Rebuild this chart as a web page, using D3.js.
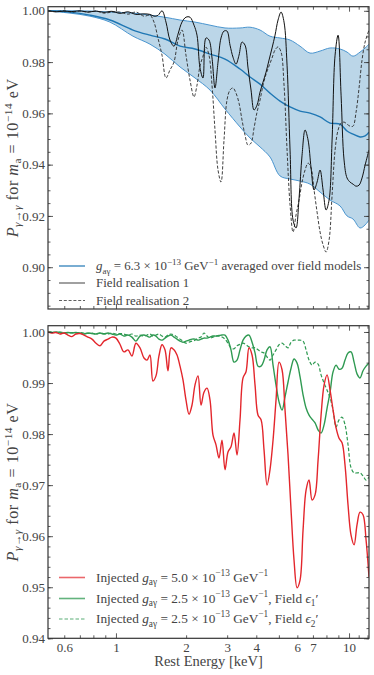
<!DOCTYPE html>
<html>
<head>
<meta charset="utf-8">
<script src="https://cdn.jsdelivr.net/npm/d3@7"></script>
<style>
  html, body { margin: 0; padding: 0; background: #fff; }
  svg { display: block; }
</style>
</head>
<body>
<div id="chart"></div>
<script>
// ---------------- DATA ----------------
// Top panel: field realisations (energy in keV, survival probability)
const energyTop = [0.511,0.553,0.598,0.647,0.701,0.758,0.821,0.888,0.961,1.040,1.126,1.218,1.319,1.399,1.456,1.514,1.576,1.639,1.705,1.774,1.846,1.920,1.997,2.078,2.162,2.227,2.294,2.363,2.434,2.507,2.583,2.660,2.741,2.823,2.908,2.995,3.086,3.178,3.274,3.373,3.474,3.579,3.687,3.798,3.912,4.030,4.151,4.276,4.405,4.537,4.674,4.814,4.959,5.109,5.262,5.421,5.584,5.752,5.925,6.104,6.287,6.477,6.672,6.872,7.079,7.292,7.512,7.738,7.971,8.211,8.458,8.712,8.974,9.244,9.520,9.804,10.10,10.40,10.72,11.04,11.37,11.72,12.18];
const realisation1 = [1.0000,0.9996,0.9999,0.9997,1.0000,0.9995,0.9999,0.9994,0.9998,0.9990,0.9996,0.9986,0.9988,
  0.9986,0.9979,0.9982,1.0000,0.9956,0.9886,0.9862,0.9909,0.9956,0.9975,0.9975,0.9944,
  0.9905,0.9777,0.9738,0.9894,0.9886,0.9816,0.9699,0.9800,0.9894,0.9921,
  0.9921,0.9866,0.9819,0.9792,0.9827,0.9878,0.9866,0.9777,0.9691,0.9613,
  0.9632,0.9683,0.9722,0.9761,0.9808,0.9855,0.9905,0.9964,0.9995,0.9956,
  0.9788,0.9457,0.9184,0.9153,0.9270,0.9437,0.9535,0.9496,0.9387,0.9301,
  0.9332,0.9379,0.9301,0.9223,0.9262,0.9496,0.9827,0.9905,0.9671,0.9418,
  0.9348,0.9332,0.9324,0.9316,0.9320,0.9348,0.9398,0.9457];
const realisation2 = [1.0000,0.9997,1.0000,0.9995,0.9999,0.9995,0.9999,0.9991,0.9995,0.9995,0.9987,0.9995,0.9979,
  0.9983,0.9956,0.9894,0.9827,0.9738,0.9769,0.9800,0.9886,0.9925,0.9827,0.9730,0.9664,
  0.9710,0.9785,0.9823,0.9858,0.9827,0.9710,0.9535,0.9379,0.9332,0.9496,
  0.9652,0.9691,0.9699,0.9679,0.9640,0.9574,0.9515,0.9476,0.9484,0.9543,
  0.9605,0.9652,0.9710,0.9753,0.9785,0.9816,0.9847,0.9859,0.9839,0.9710,
  0.9457,0.9243,0.9137,0.9204,0.9262,0.9332,0.9379,0.9406,0.9387,0.9301,
  0.9215,0.9137,0.9087,0.9059,0.9106,0.9281,0.9457,0.9535,0.9562,0.9566,
  0.9558,0.9550,0.9550,0.9605,0.9699,0.9808,0.9878,0.9925];

// Top panel: average over field models and its spread
const energyBand = [0.511,0.635,0.773,0.942,1.183,1.399,1.623,1.883,2.183,2.532,2.937,3.406,3.759,4.151,4.580,5.058,5.584,6.164,6.804,7.512,8.290,9.149,9.804,10.40,11.15,11.72,12.18];
const bandUpper = [1.0000,1.0000,0.9999,0.9995,0.9991,0.9983,0.9975,0.9964,0.9956,0.9944,0.9933,0.9933,0.9936,0.9925,0.9901,0.9894,0.9886,0.9862,0.9835,0.9843,0.9855,0.9851,0.9839,0.9823,0.9839,0.9855,0.9870];
const bandMean  = [1.0000,0.9995,0.9983,0.9964,0.9925,0.9905,0.9890,0.9862,0.9851,0.9831,0.9812,0.9773,0.9742,0.9714,0.9679,0.9648,0.9625,0.9609,0.9601,0.9586,0.9562,0.9558,0.9531,0.9519,0.9508,0.9512,0.9527];
const bandLower = [0.9999,0.9991,0.9979,0.9956,0.9901,0.9870,0.9831,0.9781,0.9738,0.9691,0.9617,0.9547,0.9504,0.9469,0.9430,0.9356,0.9344,0.9336,0.9324,0.9293,0.9262,0.9239,0.9200,0.9188,0.9153,0.9165,0.9184];

// Bottom panel: injected signals
const energyBottom = [0.511,0.531,0.553,0.575,0.598,0.622,0.647,0.673,0.701,0.729,0.758,0.789,0.821,0.854,0.888,0.924,0.961,1.000,1.040,1.082,1.126,1.171,1.218,1.268,1.319,
  1.359,1.399,1.441,1.485,1.529,1.576,1.623,1.672,1.722,1.774,1.828,1.883,1.939,1.997,2.058,2.120,2.183,2.249,2.317,2.386,
  2.459,2.532,2.608,2.687,2.768,2.851,2.937,3.025,3.116,3.210,3.307,3.406,3.509,3.614,3.723,3.836,3.951,4.070,4.193,4.318,
  4.449,4.580,4.720,4.862,5.008,5.159,5.314,5.474,5.639,5.808,5.984,6.164,6.349,6.541,6.737,6.940,7.149,7.365,7.586,7.814,
  8.050,8.290,8.541,8.798,9.059,9.333,9.613,9.902,10.20,10.51,10.82,11.15,11.48,11.83,12.18];
const injected50 = [1.0000,0.9998,0.9999,0.9996,0.9998,0.9994,0.9991,0.9996,0.9997,0.9994,0.9990,0.9986,0.9978,0.9973,0.9982,0.9986,0.9990,0.9988,0.9976,0.9961,0.9965,0.9953,0.9978,0.9969,0.9949,
  0.9945,0.9955,0.9904,0.9914,0.9953,0.9975,0.9965,0.9924,0.9969,0.9965,
  0.9955,0.9933,0.9906,0.9867,0.9839,0.9857,0.9896,0.9914,0.9857,0.9882,
  0.9890,0.9867,0.9798,0.9779,0.9753,0.9788,0.9730,0.9765,0.9775,0.9802,
  0.9759,0.9828,0.9910,0.9922,0.9969,0.9955,0.9896,0.9837,0.9828,0.9769,
  0.9700,0.9730,0.9788,0.9867,0.9941,0.9926,0.9847,0.9759,0.9651,0.9553,
  0.9499,0.9514,0.9612,0.9690,0.9710,0.9671,0.9681,0.9749,0.9837,0.9896,
  0.9916,0.9886,0.9847,0.9812,0.9792,0.9783,0.9739,0.9661,0.9602,0.9583,
  0.9622,0.9647,0.9642,0.9593,0.9520];
const injected25e1 = [1.0000,0.9999,1.0000,0.9999,0.9998,0.9999,0.9998,0.9999,0.9998,0.9996,0.9998,0.9997,0.9996,0.9998,0.9996,0.9998,0.9996,0.9994,0.9996,0.9992,0.9994,0.9990,0.9982,0.9992,0.9994,
  0.9992,0.9990,0.9994,0.9992,0.9986,0.9984,0.9988,0.9992,0.9994,0.9990,
  0.9986,0.9982,0.9980,0.9982,0.9984,0.9986,0.9986,0.9984,0.9986,0.9988,
  0.9988,0.9990,0.9992,0.9992,0.9993,0.9994,0.9994,0.9984,0.9965,0.9941,
  0.9945,0.9965,0.9984,0.9992,0.9994,0.9980,0.9959,0.9933,0.9933,0.9945,
  0.9965,0.9971,0.9935,0.9896,0.9863,0.9847,0.9873,0.9902,0.9929,0.9947,
  0.9939,0.9912,0.9877,0.9851,0.9837,0.9829,0.9822,0.9808,0.9802,0.9818,
  0.9851,0.9882,0.9922,0.9935,0.9927,0.9929,0.9945,0.9959,0.9961,0.9941,
  0.9918,0.9910,0.9924,0.9933,0.9939];
const injected25e2 = [1.0000,1.0000,0.9999,1.0000,0.9999,0.9998,0.9999,0.9998,0.9999,0.9998,0.9997,0.9998,0.9996,0.9998,0.9997,0.9996,0.9998,0.9996,0.9997,0.9996,0.9994,0.9996,0.9992,0.9994,0.9992,
  0.9994,0.9996,0.9992,0.9994,0.9996,0.9992,0.9990,0.9994,0.9996,0.9994,
  0.9990,0.9986,0.9982,0.9978,0.9980,0.9982,0.9984,0.9988,0.9990,0.9998,
  0.9992,0.9988,0.9990,0.9992,0.9992,0.9990,0.9986,0.9978,0.9969,0.9967,
  0.9973,0.9976,0.9978,0.9975,0.9971,0.9969,0.9969,0.9965,0.9961,0.9959,
  0.9951,0.9945,0.9955,0.9965,0.9975,0.9978,0.9973,0.9969,0.9980,0.9984,
  0.9984,0.9984,0.9982,0.9965,0.9945,0.9935,0.9941,0.9937,0.9916,0.9900,
  0.9886,0.9871,0.9847,0.9814,0.9828,0.9833,0.9818,0.9779,0.9734,0.9724,
  0.9724,0.9724,0.9718,0.9710,0.9716];

// Ticks
const xMajorTicks = [1, 10];
const xMinorTicks = [0.6, 0.7, 0.8, 0.9, 2, 3, 4, 5, 6, 7, 8, 9, 11, 12];
const xTickLabels = [0.6, 1, 2, 3, 4, 6, 7, 10];
const yTicksTop = [0.90, 0.92, 0.94, 0.96, 0.98, 1.00];
const yMinorTop = [0.885,0.890,0.895,0.900,0.905,0.910,0.915,0.920,0.925,0.930,0.935,0.940,0.945,0.950,0.955,0.960,0.965,0.970,0.975,0.980,0.985,0.990,0.995,1.000];
const yTicksBottom = [0.94, 0.95, 0.96, 0.97, 0.98, 0.99, 1.00];
const yMinorBottom = [0.940,0.942,0.944,0.946,0.948,0.950,0.952,0.954,0.956,0.958,0.960,0.962,0.964,0.966,0.968,0.970,0.972,0.974,0.976,0.978,0.980,0.982,0.984,0.986,0.988,0.990,0.992,0.994,0.996,0.998,1.000];

// ---------------- LAYOUT ----------------
const W = 374, H = 675;
const FONT = "'Liberation Serif', 'DejaVu Serif', serif";
const TXT = "#444";
const AX = "#333";
const BLUE = "#1f77b4";
const RED = "#e3262c";
const GREEN = "#2f9a52";

const svg = d3.select("#chart").append("svg")
  .attr("width", W).attr("height", H)
  .attr("font-family", FONT);

const xL = 48, xR = 369;
const topP = { y0: 6.7, y1: 309 };
const botP = { y0: 325.7, y1: 638.3 };

const x = d3.scaleLog().domain([0.511, 12.18]).range([xL, xR]);
const yTop = d3.scaleLinear().domain([0.8837, 1.0016]).range([topP.y1, topP.y0]);
const yBot = d3.scaleLinear().domain([0.94, 1.00123]).range([botP.y1, botP.y0]);

const defs = svg.append("defs");
function clip(id, p) {
  defs.append("clipPath").attr("id", id).append("rect")
    .attr("x", xL).attr("y", p.y0).attr("width", xR - xL).attr("height", p.y1 - p.y0);
}
clip("clipTop", topP);
clip("clipBot", botP);

function zipXY(xs, ys) { return xs.map((e, i) => [e, ys[i]]); }

// Rich text helper (italic / sub / super)
function rich(sel, parts, fs, subK, supK) {
  const sk = subK || 0.28, pk = supK || 0.42;
  let shift = 0;
  parts.forEach(p => {
    const target = p.sub ? sk * fs : (p.sup ? -pk * fs : 0);
    const ts = sel.append("tspan").text(p.t)
      .attr("dy", (target - shift).toFixed(2))
      .attr("font-size", (p.sub || p.sup) ? fs * 0.7 : fs);
    if (p.i) ts.attr("font-style", "italic");
    shift = target;
  });
}

// ---------------- TOP PANEL ----------------
const gTop = svg.append("g");
const plotTop = gTop.append("g").attr("clip-path", "url(#clipTop)");

const bandData = energyBand.map((e, i) => ({ e, lo: bandLower[i], hi: bandUpper[i], m: bandMean[i] }));
const curve = d3.curveCatmullRom.alpha(0.5);

plotTop.append("path").datum(bandData)
  .attr("d", d3.area().x(d => x(d.e)).y0(d => yTop(d.lo)).y1(d => yTop(d.hi)).curve(curve))
  .attr("fill", BLUE).attr("fill-opacity", 0.3).attr("stroke", "none");
["hi", "lo"].forEach(k => {
  plotTop.append("path").datum(bandData)
    .attr("d", d3.line().x(d => x(d.e)).y(d => yTop(d[k])).curve(curve))
    .attr("fill", "none").attr("stroke", "#4a95cf").attr("stroke-width", 1);
});
plotTop.append("path").datum(bandData)
  .attr("d", d3.line().x(d => x(d.e)).y(d => yTop(d.m)).curve(curve))
  .attr("fill", "none").attr("stroke", BLUE).attr("stroke-width", 1.4);

const lineTop = d3.line().x(d => x(d[0])).y(d => yTop(d[1])).curve(curve);
plotTop.append("path").datum(zipXY(energyTop, realisation2))
  .attr("d", lineTop).attr("fill", "none").attr("stroke", "#2a2a2a")
  .attr("stroke-width", 0.9).attr("stroke-dasharray", "3.2,1.8");
plotTop.append("path").datum(zipXY(energyTop, realisation1))
  .attr("d", lineTop).attr("fill", "none").attr("stroke", "#111")
  .attr("stroke-width", 1.0);

// ---------------- BOTTOM PANEL ----------------
const gBot = svg.append("g");
const plotBot = gBot.append("g").attr("clip-path", "url(#clipBot)");
const lineBot = d3.line().x(d => x(d[0])).y(d => yBot(d[1])).curve(curve);

plotBot.append("path").datum(zipXY(energyBottom, injected25e2))
  .attr("d", lineBot).attr("fill", "none").attr("stroke", GREEN)
  .attr("stroke-width", 1.2).attr("stroke-dasharray", "3.5,2");
plotBot.append("path").datum(zipXY(energyBottom, injected25e1))
  .attr("d", lineBot).attr("fill", "none").attr("stroke", GREEN)
  .attr("stroke-width", 1.4);
plotBot.append("path").datum(zipXY(energyBottom, injected50))
  .attr("d", lineBot).attr("fill", "none").attr("stroke", RED)
  .attr("stroke-width", 1.4);

// ---------------- AXES ----------------
const fmtX = d => xTickLabels.includes(d) ? d3.format("~g")(d) : "";
function styleAxis(g) {
  g.select(".domain").remove();
  g.selectAll(".tick line").attr("stroke", AX).attr("stroke-width", 0.8);
  g.selectAll(".tick text").attr("fill", TXT).attr("font-family", FONT).attr("font-size", 13);
}
function axes(y, p, yMaj, yMin, showX) {
  const g = svg.append("g");
  g.append("g").attr("transform", `translate(0,${p.y1})`)
    .call(d3.axisBottom(x).tickValues(xMajorTicks).tickSizeInner(-5).tickSizeOuter(0).tickPadding(4)
      .tickFormat(showX ? fmtX : () => "")).call(styleAxis);
  g.append("g").attr("transform", `translate(0,${p.y1})`)
    .call(d3.axisBottom(x).tickValues(xMinorTicks).tickSizeInner(-3).tickSizeOuter(0).tickPadding(4)
      .tickFormat(showX ? fmtX : () => "")).call(styleAxis);
  g.append("g").attr("transform", `translate(0,${p.y0})`)
    .call(d3.axisTop(x).tickValues(xMajorTicks).tickSizeInner(-5).tickSizeOuter(0).tickFormat(() => "")).call(styleAxis);
  g.append("g").attr("transform", `translate(0,${p.y0})`)
    .call(d3.axisTop(x).tickValues(xMinorTicks).tickSizeInner(-3).tickSizeOuter(0).tickFormat(() => "")).call(styleAxis);
  g.append("g").attr("transform", `translate(${xL},0)`)
    .call(d3.axisLeft(y).tickValues(yMaj).tickSizeInner(-5).tickSizeOuter(0).tickPadding(3)
      .tickFormat(d3.format(".2f"))).call(styleAxis);
  g.append("g").attr("transform", `translate(${xL},0)`)
    .call(d3.axisLeft(y).tickValues(yMin).tickSizeInner(-2.5).tickSizeOuter(0).tickFormat(() => "")).call(styleAxis);
  g.append("g").attr("transform", `translate(${xR},0)`)
    .call(d3.axisRight(y).tickValues(yMaj).tickSizeInner(-5).tickSizeOuter(0).tickFormat(() => "")).call(styleAxis);
  g.append("g").attr("transform", `translate(${xR},0)`)
    .call(d3.axisRight(y).tickValues(yMin).tickSizeInner(-2.5).tickSizeOuter(0).tickFormat(() => "")).call(styleAxis);
  g.append("rect").attr("x", xL).attr("y", p.y0).attr("width", xR - xL).attr("height", p.y1 - p.y0)
    .attr("fill", "none").attr("stroke", AX).attr("stroke-width", 1.2);
}
axes(yTop, topP, yTicksTop, yMinorTop, false);
axes(yBot, botP, yTicksBottom, yMinorBottom, true);

// y labels
const ylabParts = [
  { t: "P", i: true }, { t: "γ→γ", sub: true, i: true }, { t: " for " },
  { t: "m", i: true }, { t: "a", sub: true }, { t: " = 10" }, { t: "−14", sup: true }, { t: " eV" }
];
[topP, botP].forEach(p => {
  const cy = (p.y0 + p.y1) / 2;
  const t = svg.append("text").attr("transform", `translate(17.5,${cy}) rotate(-90)`)
    .attr("text-anchor", "middle").attr("fill", TXT).attr("font-size", 16.2)
    .attr("letter-spacing", 0.5);
  rich(t, ylabParts, 16.2, 0.2, 0.34);
});

// x label
svg.append("text").attr("x", (xL + xR) / 2).attr("y", 666).attr("text-anchor", "middle")
  .attr("fill", TXT).attr("font-size", 14.5).text("Rest Energy [keV]");

// ---------------- LEGENDS ----------------
function legendRow(y, color, dash, width, opacity, parts, fs) {
  svg.append("line").attr("x1", 59).attr("x2", 85).attr("y1", y).attr("y2", y)
    .attr("stroke", color).attr("stroke-width", width).attr("stroke-opacity", opacity)
    .attr("stroke-dasharray", dash || null);
  const t = svg.append("text").attr("x", 96).attr("y", y + 4).attr("fill", TXT).attr("font-size", fs);
  rich(t, parts, fs);
}
const TF = 12.9;
legendRow(266, BLUE, null, 1.6, 0.75, [
  { t: "g", i: true }, { t: "aγ", sub: true }, { t: " = 6.3 × 10" }, { t: "−13", sup: true },
  { t: " GeV" }, { t: "−1", sup: true }, { t: " averaged over field models" }], TF);
legendRow(283, "#111", null, 1.0, 0.8, [{ t: "Field realisation 1" }], TF);
legendRow(300.5, "#222", "3,1.8", 0.9, 0.8, [{ t: "Field realisation 2" }], TF);

const BF = 13.3;
legendRow(577.5, RED, null, 1.6, 0.7, [
  { t: "Injected " }, { t: "g", i: true }, { t: "aγ", sub: true }, { t: " = 5.0 × 10" }, { t: "−13", sup: true },
  { t: " GeV" }, { t: "−1", sup: true }], BF);
legendRow(598.5, GREEN, null, 1.6, 0.75, [
  { t: "Injected " }, { t: "g", i: true }, { t: "aγ", sub: true }, { t: " = 2.5 × 10" }, { t: "−13", sup: true },
  { t: " GeV" }, { t: "−1", sup: true }, { t: ",  Field " }, { t: "ϵ", i: true }, { t: "1", sub: true }, { t: "′" }], BF);
legendRow(619, GREEN, "3.5,2", 1.2, 0.8, [
  { t: "Injected " }, { t: "g", i: true }, { t: "aγ", sub: true }, { t: " = 2.5 × 10" }, { t: "−13", sup: true },
  { t: " GeV" }, { t: "−1", sup: true }, { t: ",  Field " }, { t: "ϵ", i: true }, { t: "2", sub: true }, { t: "′" }], BF);
</script>
</body>
</html>
